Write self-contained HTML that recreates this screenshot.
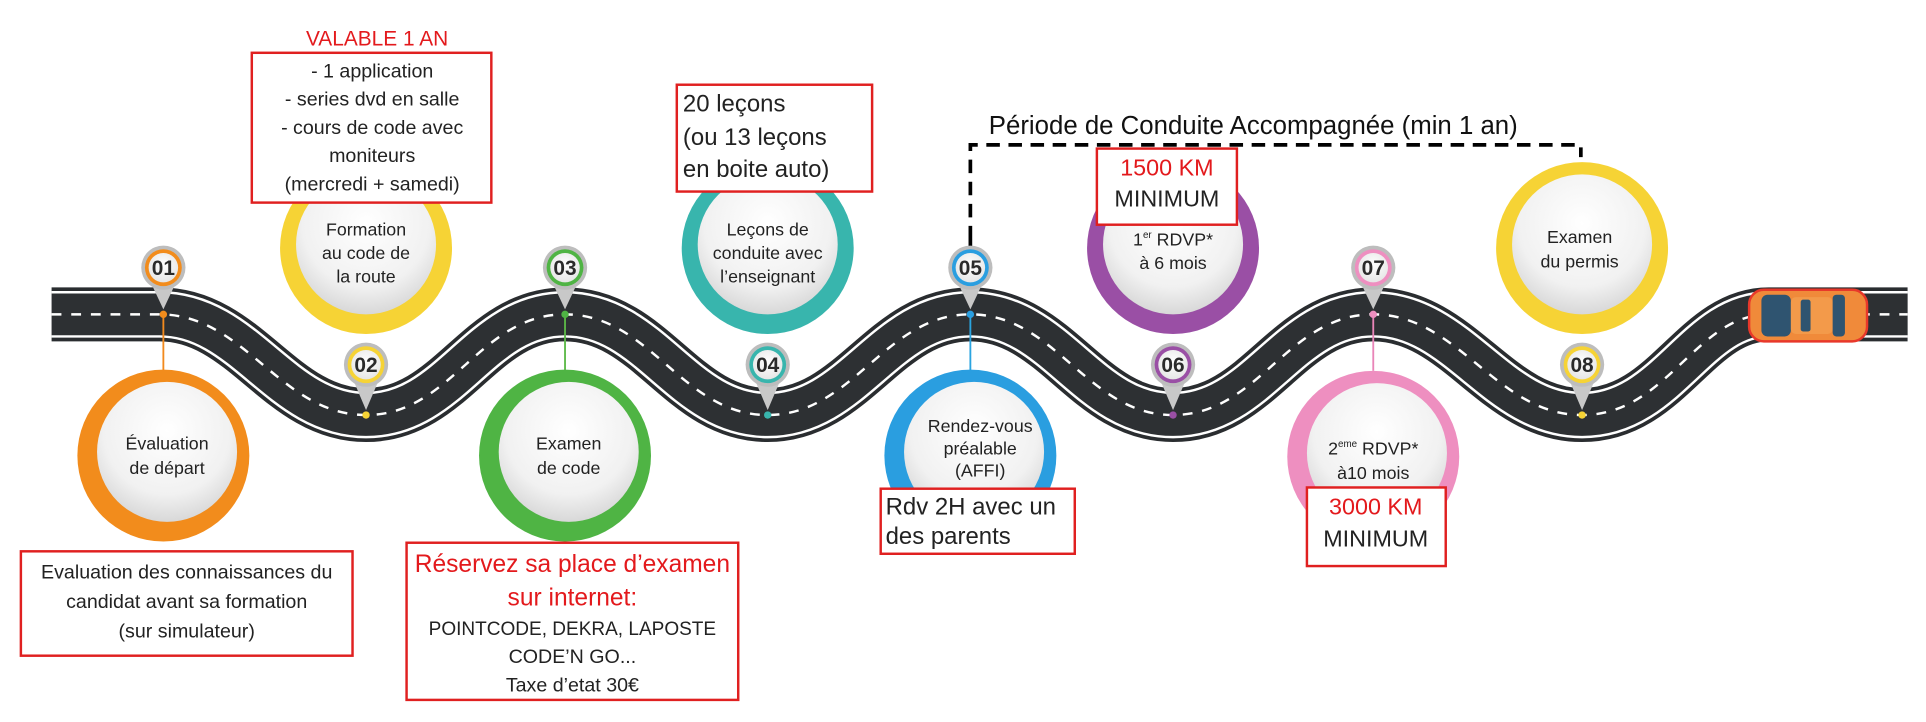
<!DOCTYPE html>
<html><head><meta charset="utf-8"><style>
html,body{margin:0;padding:0;background:#fff;}
svg{display:block;}
text{font-family:"Liberation Sans",sans-serif;}
</style></head><body>
<svg width="1926" height="722" viewBox="0 0 1568 588" preserveAspectRatio="none" xmlns="http://www.w3.org/2000/svg">
<defs>
<radialGradient id="inner" cx="50%" cy="35%" r="65%"><stop offset="0" stop-color="#ffffff"/><stop offset="0.7" stop-color="#f1f1f1"/><stop offset="1" stop-color="#d8d8d8"/></radialGradient>
<radialGradient id="pinIn" cx="50%" cy="40%" r="60%"><stop offset="0" stop-color="#fff"/><stop offset="1" stop-color="#e6e6e6"/></radialGradient>
</defs>
<rect width="1568" height="588" fill="#fff"/>

<g fill="none" stroke-linejoin="round">
<path d="M42,256 L130,256 C200,256 228,338 298,338 C368,338 390,256 460,256 C530,256 555,338 625,338 C695,338 720,256 790,256 C860,256 885,338 955,338 C1025,338 1048,256 1118,256 C1188,256 1218,338 1288,338 C1358,338 1380,256 1440,256 L1553,256" stroke="#2a2d30" stroke-width="44"/>
<path d="M42,256 L130,256 C200,256 228,338 298,338 C368,338 390,256 460,256 C530,256 555,338 625,338 C695,338 720,256 790,256 C860,256 885,338 955,338 C1025,338 1048,256 1118,256 C1188,256 1218,338 1288,338 C1358,338 1380,256 1440,256 L1553,256" stroke="#ffffff" stroke-width="38"/>
<path d="M42,256 L130,256 C200,256 228,338 298,338 C368,338 390,256 460,256 C530,256 555,338 625,338 C695,338 720,256 790,256 C860,256 885,338 955,338 C1025,338 1048,256 1118,256 C1188,256 1218,338 1288,338 C1358,338 1380,256 1440,256 L1553,256" stroke="#2d3033" stroke-width="34"/>
<path d="M42,256 L130,256 C200,256 228,338 298,338 C368,338 390,256 460,256 C530,256 555,338 625,338 C695,338 720,256 790,256 C860,256 885,338 955,338 C1025,338 1048,256 1118,256 C1188,256 1218,338 1288,338 C1358,338 1380,256 1440,256 L1553,256" stroke="#ffffff" stroke-width="2" stroke-dasharray="8 8"/>
</g>

<g stroke-width="1.5">
<line x1="133" y1="256" x2="133" y2="302" stroke="#f28a1e"/>
<line x1="460" y1="256" x2="460" y2="302" stroke="#5cb847"/>
<line x1="790" y1="256" x2="790" y2="302" stroke="#2aa4e0"/>
<line x1="1118" y1="256" x2="1118" y2="302" stroke="#e985b8"/>
<line x1="790" y1="195" x2="790" y2="214" stroke="#000" stroke-width="3"/>
</g>

<g>
<circle cx="133" cy="371" r="70" fill="#f28c1c"/><circle cx="136" cy="368" r="57" fill="url(#inner)"/>
<circle cx="298" cy="202" r="70" fill="#f6d335"/><circle cx="298" cy="199" r="57" fill="url(#inner)"/>
<circle cx="460" cy="371" r="70" fill="#4fb444"/><circle cx="463" cy="368" r="57" fill="url(#inner)"/>
<circle cx="625" cy="202" r="70" fill="#38b5ad"/><circle cx="625" cy="199" r="57" fill="url(#inner)"/>
<circle cx="790" cy="371" r="70" fill="#2a9ee0"/><circle cx="793" cy="368" r="57" fill="url(#inner)"/>
<circle cx="955" cy="202" r="70" fill="#9a4fa5"/><circle cx="955" cy="199" r="57" fill="url(#inner)"/>
<circle cx="1118" cy="372" r="70" fill="#ee8fc0"/><circle cx="1121" cy="369" r="57" fill="url(#inner)"/>
<circle cx="1288" cy="202" r="70" fill="#f6d335"/><circle cx="1288" cy="199" r="57" fill="url(#inner)"/>
</g>
<g font-size="14.5" fill="#222" text-anchor="middle">
<text x="136" y="366">Évaluation</text><text x="136" y="386">de départ</text>
<text x="298" y="192">Formation</text><text x="298" y="211">au code de</text><text x="298" y="230">la route</text>
<text x="463" y="366">Examen</text><text x="463" y="386">de code</text>
<text x="625" y="192">Leçons de</text><text x="625" y="211">conduite avec</text><text x="625" y="230">l’enseignant</text>
<text x="798" y="352">Rendez-vous</text><text x="798" y="370">préalable</text><text x="798" y="388">(AFFI)</text>
<text x="955" y="200">1<tspan font-size="8" dy="-6">er</tspan><tspan dy="6"> RDVP*</tspan></text><text x="955" y="219">à 6 mois</text>
<text x="1118" y="370">2<tspan font-size="8" dy="-6">eme</tspan><tspan dy="6"> RDVP*</tspan></text><text x="1118" y="390">à10 mois</text>
<text x="1286" y="198">Examen</text><text x="1286" y="218">du permis</text>
</g>

<g font-size="17" font-weight="bold" fill="#2a2a2a" text-anchor="middle">
<g><path d="M119,222 L133,252 L147,222 Z" fill="#c8c8c8"/><circle cx="133" cy="218" r="18" fill="#bdbdbd"/><circle cx="133" cy="218" r="15" fill="#f28c1c"/><circle cx="133" cy="218" r="12" fill="url(#pinIn)"/><text x="133" y="224">01</text><circle cx="133" cy="256" r="3" fill="#f28c1c"/></g>
<g><path d="M284,301 L298,334 L312,301 Z" fill="#c8c8c8"/><circle cx="298" cy="297" r="18" fill="#bdbdbd"/><circle cx="298" cy="297" r="15" fill="#f6d335"/><circle cx="298" cy="297" r="12" fill="url(#pinIn)"/><text x="298" y="303">02</text><circle cx="298" cy="338" r="3" fill="#f6d335"/></g>
<g><path d="M446,222 L460,252 L474,222 Z" fill="#c8c8c8"/><circle cx="460" cy="218" r="18" fill="#bdbdbd"/><circle cx="460" cy="218" r="15" fill="#4fb444"/><circle cx="460" cy="218" r="12" fill="url(#pinIn)"/><text x="460" y="224">03</text><circle cx="460" cy="256" r="3" fill="#4fb444"/></g>
<g><path d="M611,301 L625,334 L639,301 Z" fill="#c8c8c8"/><circle cx="625" cy="297" r="18" fill="#bdbdbd"/><circle cx="625" cy="297" r="15" fill="#38b5ad"/><circle cx="625" cy="297" r="12" fill="url(#pinIn)"/><text x="625" y="303">04</text><circle cx="625" cy="338" r="3" fill="#38b5ad"/></g>
<g><path d="M776,222 L790,252 L804,222 Z" fill="#c8c8c8"/><circle cx="790" cy="218" r="18" fill="#bdbdbd"/><circle cx="790" cy="218" r="15" fill="#2a9ee0"/><circle cx="790" cy="218" r="12" fill="url(#pinIn)"/><text x="790" y="224">05</text><circle cx="790" cy="256" r="3" fill="#2a9ee0"/></g>
<g><path d="M941,301 L955,334 L969,301 Z" fill="#c8c8c8"/><circle cx="955" cy="297" r="18" fill="#bdbdbd"/><circle cx="955" cy="297" r="15" fill="#9a4fa5"/><circle cx="955" cy="297" r="12" fill="url(#pinIn)"/><text x="955" y="303">06</text><circle cx="955" cy="338" r="3" fill="#9a4fa5"/></g>
<g><path d="M1104,222 L1118,252 L1132,222 Z" fill="#c8c8c8"/><circle cx="1118" cy="218" r="18" fill="#bdbdbd"/><circle cx="1118" cy="218" r="15" fill="#ee8fc0"/><circle cx="1118" cy="218" r="12" fill="url(#pinIn)"/><text x="1118" y="224">07</text><circle cx="1118" cy="256" r="3" fill="#ee8fc0"/></g>
<g><path d="M1274,301 L1288,334 L1302,301 Z" fill="#c8c8c8"/><circle cx="1288" cy="297" r="18" fill="#bdbdbd"/><circle cx="1288" cy="297" r="15" fill="#f6d335"/><circle cx="1288" cy="297" r="12" fill="url(#pinIn)"/><text x="1288" y="303">08</text><circle cx="1288" cy="338" r="3" fill="#f6d335"/></g>
</g>

<g>
<rect x="1424" y="236" width="96" height="42" rx="12" fill="#f08a3a" stroke="#e8382a" stroke-width="2"/>
<rect x="1434" y="240" width="24" height="34" rx="5" fill="#2f5470"/>
<rect x="1458" y="242" width="34" height="30" rx="4" fill="#f39a4a"/>
<rect x="1466" y="244" width="8" height="26" rx="2" fill="#2f5470"/>
<rect x="1492" y="240" width="10" height="34" rx="3" fill="#2f5470"/>
</g>

<path d="M790,195 L790,118 L1287,118 L1287,128" fill="none" stroke="#000" stroke-width="3" stroke-dasharray="11 7"/>
<text x="805" y="109" font-size="21" fill="#111">Période de Conduite Accompagnée (min 1 an)</text>

<g fill="#fff" stroke="#e02020" stroke-width="2">
<rect x="205" y="43" width="195" height="122"/>
<rect x="551" y="69" width="159" height="87"/>
<rect x="17" y="449" width="270" height="85"/>
<rect x="331" y="442" width="270" height="128"/>
<rect x="717" y="398" width="158" height="53"/>
<rect x="893" y="121" width="114" height="62"/>
<rect x="1064" y="397" width="113" height="64"/>
</g>
<text x="307" y="37" font-size="17" fill="#e3191c" text-anchor="middle">VALABLE 1 AN</text>
<g font-size="16" fill="#222" text-anchor="middle">
<text x="303" y="63">- 1 application</text>
<text x="303" y="86">- series dvd en salle</text>
<text x="303" y="109">- cours de code avec</text>
<text x="303" y="132">moniteurs</text>
<text x="303" y="155">(mercredi + samedi)</text>
<text x="152" y="471">Evaluation des connaissances du</text>
<text x="152" y="495">candidat avant sa formation</text>
<text x="152" y="519">(sur simulateur)</text>
<text x="466" y="540">CODE’N GO...</text>
<text x="466" y="563">Taxe d’etat 30€</text>
</g>
<text x="466" y="517" font-size="15.5" fill="#222" text-anchor="middle">POINTCODE, DEKRA, LAPOSTE</text>
<g font-size="20" fill="#e3191c" text-anchor="middle">
<text x="466" y="466">Réservez sa place d’examen</text>
<text x="466" y="493">sur internet:</text>
</g>
<g font-size="19.5" fill="#222">
<text x="556" y="91">20 leçons</text>
<text x="556" y="118">(ou 13 leçons</text>
<text x="556" y="144">en boite auto)</text>
<text x="721" y="419">Rdv 2H avec un</text>
<text x="721" y="443">des parents</text>
</g>
<g font-size="19" text-anchor="middle">
<text x="950" y="143" fill="#e3191c">1500 KM</text>
<text x="950" y="168" fill="#222">MINIMUM</text>
<text x="1120" y="419" fill="#e3191c">3000 KM</text>
<text x="1120" y="445" fill="#222">MINIMUM</text>
</g>
</svg>
</body></html>
